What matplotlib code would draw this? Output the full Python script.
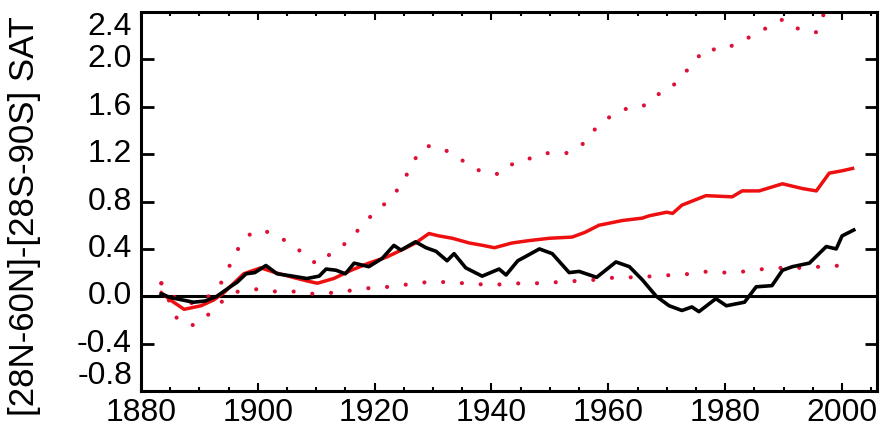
import matplotlib
matplotlib.use("Agg")
import matplotlib.pyplot as plt
from matplotlib.ticker import MultipleLocator
import matplotlib.transforms as mtransforms

plt.rcParams['font.family'] = ['Liberation Sans', 'DejaVu Sans']

# Observed (black)
obs_years = [1883.5, 1885, 1887, 1889, 1891, 1893, 1895, 1896.5, 1898, 1899.5, 1901.4, 1903.3,
             1906, 1908.4, 1910.5, 1911.7, 1913.4, 1915, 1916.5, 1919, 1921.3, 1923.3, 1924.5,
             1927, 1928.8, 1930.5, 1932.4, 1933.6, 1935.6, 1938.4, 1941.3, 1942.5, 1944.5, 1946,
             1948.2, 1950.4, 1953.3, 1955, 1958, 1961.3, 1963.6, 1965.8, 1968.2, 1970.4, 1972.6,
             1974.3, 1975.5, 1978.4, 1980.2, 1983.3, 1985.3, 1988, 1989.8, 1991.5, 1994.4,
             1997.3, 1999, 2000, 2002]
obs_vals = [0.02, -0.01, -0.03, -0.05, -0.04, 0.00, 0.07, 0.12, 0.19, 0.20, 0.26, 0.19,
            0.17, 0.15, 0.17, 0.23, 0.22, 0.19, 0.28, 0.25, 0.32, 0.43, 0.39,
            0.46, 0.41, 0.38, 0.30, 0.36, 0.24, 0.17, 0.23, 0.18, 0.30, 0.34,
            0.40, 0.36, 0.20, 0.21, 0.16, 0.29, 0.25, 0.14, 0.00, -0.08, -0.12,
            -0.09, -0.13, -0.02, -0.08, -0.05, 0.08, 0.09, 0.22, 0.25, 0.28,
            0.42, 0.40, 0.51, 0.56]

# Model mean (red solid)
mean_years = [1883.5, 1885, 1887.4, 1890.3, 1892.5, 1894.2, 1897.6, 1900.5, 1903, 1906, 1908.4,
              1910.2, 1913, 1916, 1919, 1922, 1925, 1927, 1929.3, 1931, 1933.3, 1936.2, 1938.5,
              1940.5, 1943.5, 1946.4, 1949.9, 1953.8, 1956, 1958.4, 1962.4, 1965.8, 1967, 1970,
              1971, 1972.6, 1976.7, 1981.2, 1982.9, 1985.8, 1989.8, 1993.2, 1995.6, 1997.8,
              2000, 2001.8]
mean_vals = [0.03, -0.03, -0.11, -0.08, -0.03, 0.03, 0.19, 0.24, 0.20, 0.16, 0.13,
             0.11, 0.15, 0.22, 0.28, 0.33, 0.40, 0.45, 0.53, 0.51, 0.49, 0.45, 0.43,
             0.41, 0.45, 0.47, 0.49, 0.50, 0.54, 0.60, 0.64, 0.66, 0.68, 0.71,
             0.70, 0.77, 0.85, 0.84, 0.89, 0.89, 0.95, 0.91, 0.89, 1.04,
             1.06, 1.08]

# Upper bound (red dotted)
upper_years = [1883.5, 1886, 1888.5, 1891, 1893.7, 1895.1, 1896.5, 1898.2, 1900.2, 1902.8,
               1905.3, 1907.9, 1910.1, 1912.5, 1915.1, 1917, 1919, 1921.3, 1923.5, 1925.2,
               1926.9, 1928.8, 1931, 1933.9, 1936, 1938.4, 1941.5, 1943.9, 1947, 1949.7,
               1953, 1955.5, 1957.7, 1960.1, 1962.7, 1965.8, 1968.2, 1970.4, 1972.5, 1974.5,
               1976.4, 1979.5, 1982.2, 1984.6, 1987.2, 1989.9, 1992.8, 1995.6, 1997, 1999,
               2001.8]
upper_vals = [0.11, -0.02, -0.06, -0.03, 0.11, 0.25, 0.39, 0.51, 0.56, 0.53,
              0.45, 0.36, 0.27, 0.36, 0.45, 0.55, 0.66, 0.76, 0.87, 1.00,
              1.16, 1.27, 1.26, 1.19, 1.11, 1.05, 1.03, 1.13, 1.17, 1.21,
              1.21, 1.28, 1.41, 1.51, 1.58, 1.60, 1.70, 1.74, 1.86, 1.96,
              2.09, 2.08, 2.14, 2.20, 2.27, 2.34, 2.25, 2.23, 2.40, 2.50,
              2.55]

# Lower bound (red dotted)
lower_years = [1883.5, 1886.2, 1888.6, 1890.8, 1893.5, 1895, 1896.6, 1899.9, 1903.1, 1906.4,
               1909.6, 1912.9, 1916.1, 1919.2, 1922.5, 1925.6, 1929, 1932.2, 1935.3, 1938.5,
               1941.7, 1945, 1948, 1951.5, 1954.7, 1958, 1961.3, 1964.5, 1967.8, 1971,
               1974.3, 1977, 1980, 1983.5, 1986.5, 1989.7, 1993, 1996.3, 2000, 2002]
lower_vals = [0.11, -0.19, -0.25, -0.19, -0.06, 0.00, 0.04, 0.06, 0.04, 0.04,
              0.02, 0.03, 0.05, 0.07, 0.08, 0.10, 0.12, 0.12, 0.11, 0.10,
              0.10, 0.11, 0.11, 0.12, 0.13, 0.14, 0.16, 0.16, 0.17, 0.18,
              0.19, 0.21, 0.20, 0.21, 0.23, 0.24, 0.24, 0.25, 0.26, 0.27]

x_ticks = [1880, 1900, 1920, 1940, 1960, 1980, 2000]
y_ticks = [-0.8, -0.4, 0.0, 0.4, 0.8, 1.2, 1.6, 2.0, 2.4]
y_label = "[28N-60N]-[28S-90S] SAT"

fig = plt.figure(figsize=(8.86, 4.33), dpi=100)
ax = fig.add_axes([0.159, 0.097, 0.831, 0.875])

dot_red = '#dd1035'
ax.axhline(0.0, color='black', lw=2.2, zorder=1)
for yrs, vals in [(upper_years, upper_vals), (lower_years, lower_vals)]:
    ax.plot(yrs, vals, color=dot_red, lw=3.0, linestyle=(0, (0.01, 4.5)),
            dash_capstyle='round', zorder=2)
ax.plot(mean_years, mean_vals, color='#ee1010', lw=2.5, zorder=3)
ax.plot(obs_years, obs_vals, color='black', lw=2.6, zorder=4)

ax.set_xlim(1880, 2006)
ax.set_ylim(-0.8, 2.4)
ax.set_xticks(x_ticks)
ax.set_yticks(y_ticks)
ax.set_yticklabels([])
ax.xaxis.set_minor_locator(MultipleLocator(5))
ax.tick_params(axis='x', which='major', direction='in', length=6, width=1.5,
               top=True, labelsize=23, pad=5)
ax.tick_params(axis='x', which='minor', direction='in', length=3, width=1.5, top=True)
ax.tick_params(axis='y', which='major', direction='in', length=9, width=2,
               right=True)

# y tick labels, end labels kept inside the axis span as in the reference
trans = mtransforms.blended_transform_factory(ax.transAxes, ax.transData)
for v in y_ticks:
    va = 'center'
    if v == y_ticks[-1]:
        va = 'top'
    elif v == y_ticks[0]:
        va = 'bottom'
    ax.text(-0.012, v, f"{v:.1f}", transform=trans, ha='right', va=va,
            fontsize=23, clip_on=False)

for s in ax.spines.values():
    s.set_linewidth(2.2)
fig.text(0.028, 0.5, y_label, rotation=90, fontsize=25, ha='center', va='center')

fig.savefig("out.png", dpi=100)
